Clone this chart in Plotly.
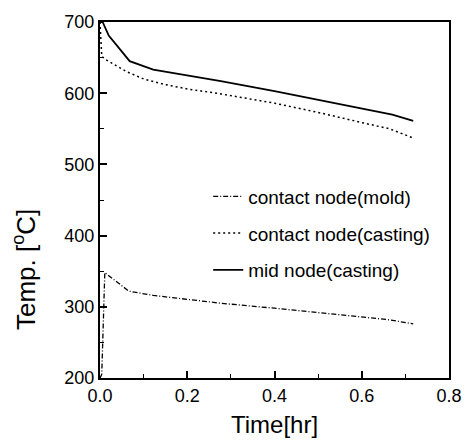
import plotly.graph_objects as go

# Time [hr]
t_mold = [0.0, 0.004, 0.011, 0.066, 0.122, 0.2, 0.277, 0.4, 0.5, 0.605, 0.66, 0.718]
T_mold = [200, 205, 348, 322, 316, 310, 305, 298, 292, 286, 282, 276]

t_cast = [0.0, 0.004, 0.011, 0.062, 0.1, 0.15, 0.2, 0.277, 0.4, 0.5, 0.605, 0.664, 0.718]
T_cast = [700, 652, 648, 630, 620, 612, 606, 599, 586, 573, 558, 550, 537]

t_mid = [0.0, 0.006, 0.02, 0.068, 0.122, 0.2, 0.277, 0.4, 0.5, 0.605, 0.67, 0.718]
T_mid = [700, 700, 681, 645, 633, 625, 617, 603, 591, 578, 570, 561]

names = ["contact node(mold)", "contact node(casting)", "mid node(casting)"]
x_ticks = [0, 0.2, 0.4, 0.6, 0.8]
x_ticktext = ["0.0", "0.2", "0.4", "0.6", "0.8"]

fig = go.Figure()
fig.add_trace(go.Scatter(x=t_mold, y=T_mold, mode="lines", name=names[0], legendgroup="a",
                         line=dict(color="black", width=1.3, dash="5px,2px,1px,2px")))
fig.add_trace(go.Scatter(x=t_cast, y=T_cast, mode="lines", name=names[1], legendgroup="b",
                         line=dict(color="black", width=1.5, dash="2px,3px")))
fig.add_trace(go.Scatter(x=t_mid, y=T_mid, mode="lines", name=names[2], legendgroup="c",
                         line=dict(color="black", width=1.8)))

font = "Arial, Liberation Sans, sans-serif"
fig.update_layout(
    width=474, height=448,
    margin=dict(l=100, r=13, t=14, b=70),
    paper_bgcolor="white", plot_bgcolor="white",
    font=dict(family=font, color="black", size=18),
    legend=dict(x=0.31, y=0.563, xanchor="left", yanchor="top",
                bgcolor="rgba(0,0,0,0)", tracegroupgap=9,
                font=dict(size=19, family=font)),
    xaxis=dict(range=[0, 0.8], tickvals=x_ticks, ticktext=x_ticktext,
               ticks="inside", ticklen=7, tickwidth=1.5, tickcolor="black",
               minor=dict(dtick=0.1, ticks="inside", ticklen=4, tickwidth=1.2, tickcolor="black"),
               showline=True, linewidth=2, linecolor="black", mirror=True,
               showgrid=False, zeroline=False,
               tickfont=dict(size=18),
               title=dict(text="Time[hr]", font=dict(size=24), standoff=12)),
    yaxis=dict(range=[200, 700], dtick=100,
               ticks="inside", ticklen=7, tickwidth=1.5, tickcolor="black",
               minor=dict(dtick=50, ticks="inside", ticklen=4, tickwidth=1.2, tickcolor="black"),
               showline=True, linewidth=2, linecolor="black", mirror=True,
               showgrid=False, zeroline=False,
               tickfont=dict(size=18)),
    annotations=[dict(text="Temp. [<sup>o</sup>C]", textangle=-90,
                      xref="paper", yref="paper", x=-0.216, y=0.305,
                      xanchor="center", yanchor="middle", showarrow=False,
                      font=dict(size=26))],
)

fig.write_html("out.html")
